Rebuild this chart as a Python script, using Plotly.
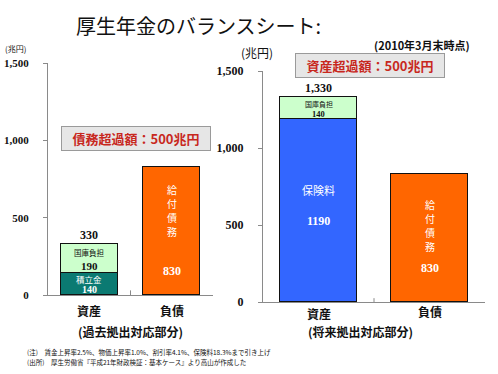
import plotly.graph_objects as go

categories = ["資産", "負債"]
# past contributions (left)
past_tsumitate = 140
past_kokko = 190
past_kyufu = 830
# future contributions (right)
fut_hokenryo = 1190
fut_kokko = 140
fut_kyufu = 830
y_ticks = [0, 500, 1000, 1500]
y_ticklabels = ["0", "500", "1,000", "1,500"]
liability_label = "給付債務"

W, H = 498, 374
SERIF = "Liberation Serif, Noto Sans CJK JP"
JP = "Noto Sans CJK JP"
TEAL = "#0b7a72"
LGREEN = "#ccffcc"
ORANGE = "#ff6600"
BLUE = "#3366ff"

def px(x):
    return x / W

def py(y):
    return 1 - y / H

fig = go.Figure()
line = dict(color="#111111", width=1.5)
bw = 0.69
fig.add_trace(go.Bar(x=[categories[0]], y=[past_tsumitate], marker=dict(color=TEAL, line=line), width=bw, xaxis="x", yaxis="y"))
fig.add_trace(go.Bar(x=[categories[0]], y=[past_kokko], marker=dict(color=LGREEN, line=line), width=bw, xaxis="x", yaxis="y"))
fig.add_trace(go.Bar(x=[categories[1]], y=[past_kyufu], marker=dict(color=ORANGE, line=line), width=bw, xaxis="x", yaxis="y"))
fig.add_trace(go.Bar(x=[categories[0]], y=[fut_hokenryo], marker=dict(color=BLUE, line=line), width=bw, xaxis="x2", yaxis="y2"))
fig.add_trace(go.Bar(x=[categories[0]], y=[fut_kokko], marker=dict(color=LGREEN, line=line), width=bw, xaxis="x2", yaxis="y2"))
fig.add_trace(go.Bar(x=[categories[1]], y=[fut_kyufu], marker=dict(color=ORANGE, line=line), width=bw, xaxis="x2", yaxis="y2"))

axcol = "#8a8a8a"
xcommon = dict(type="category", categoryorder="array", categoryarray=categories, range=[-0.5, 1.5],
               showline=True, linecolor=axcol, linewidth=1, showticklabels=False, ticks="",
               showgrid=False, zeroline=False, fixedrange=True, automargin=False)
ycommon = dict(range=[0, 1500], tickvals=y_ticks, ticktext=y_ticklabels, showline=True, linecolor=axcol,
               linewidth=1, ticks="outside", ticklen=4, tickcolor=axcol, showgrid=False, zeroline=False,
               ticklabelstandoff=12, tickfont=dict(family=SERIF, size=11, color="#111", weight="bold"),
               fixedrange=True, automargin=False)

fig.update_layout(
    width=W, height=H, margin=dict(l=0, r=0, t=0, b=0, pad=0, autoexpand=False),
    paper_bgcolor="white", plot_bgcolor="white", showlegend=False, barmode="stack", bargap=0,
    xaxis=dict(domain=[px(48), px(213)], anchor="y", **xcommon),
    yaxis=dict(domain=[py(295), py(63)], anchor="x", **ycommon),
    xaxis2=dict(domain=[px(263), px(485)], anchor="y2", **xcommon),
    yaxis2=dict(domain=[py(302), py(71)], anchor="x2",
                **{**ycommon, "tickfont": dict(family=SERIF, size=12, color="#111", weight="bold")}),
)

# small middle ticks on category axes
fig.add_shape(type="line", xref="x", yref="y", x0=0.5, x1=0.5, y0=0, y1=30, line=dict(color=axcol, width=1))
fig.add_shape(type="line", xref="x2", yref="y2", x0=0.5, x1=0.5, y0=0, y1=25, line=dict(color=axcol, width=1))

ann = []
def t(x, y, text, size, color="#111", family=SERIF, bold=False, xref="paper", yref="paper", **kw):
    if bold:
        text = "<b>" + text + "</b>"
    kw.setdefault("xanchor", "center")
    kw.setdefault("yanchor", "middle")
    ann.append(dict(x=x, y=y, xref=xref, yref=yref, text=text, showarrow=False,
                    font=dict(family=family, size=size, color=color), **kw))

def vertical(x, y, text, xref, yref, step=14, size=10):
    for i, ch in enumerate(text):
        t(x, y, ch, size, color="white", family=JP, xref=xref, yref=yref, yshift=-step * i)

# title
t(px(198), py(25), "厚生年金のバランスシート:", 20, family=JP)
t(px(422), py(45), "(2010年3月末時点)", 11, bold=True, family=JP)
# units
t(px(16), py(49), "(兆円)", 8, family=JP)
t(px(257), py(52), "(兆円)", 12, family=JP)

# left bar labels
past_total = past_tsumitate + past_kokko
t(categories[0], past_total, f"<b>{past_total:,}</b>", 12, xref="x", yref="y", yanchor="bottom", yshift=0)
t(categories[0], past_tsumitate + past_kokko * 0.72, "国庫負担", 7.5, family=JP, xref="x", yref="y")
t(categories[0], past_tsumitate + past_kokko * 0.26, f"<b>{past_kokko}</b>", 11, xref="x", yref="y")
t(categories[0], past_tsumitate * 0.74, "積立金", 8.5, color="white", family=JP, xref="x", yref="y")
t(categories[0], past_tsumitate * 0.24, f"<b>{past_tsumitate}</b>", 10, color="white", xref="x", yref="y")
vertical(categories[1], past_kyufu * 0.818, liability_label, "x", "y")
t(categories[1], past_kyufu * 0.19, f"<b>{past_kyufu}</b>", 12, color="white", xref="x", yref="y")

# right bar labels
fut_total = fut_hokenryo + fut_kokko
t(categories[0], fut_total, f"<b>{fut_total:,}</b>", 12, xref="x2", yref="y2", yanchor="bottom", yshift=0)
t(categories[0], fut_hokenryo + fut_kokko * 0.68, "国庫負担", 7, family=JP, xref="x2", yref="y2")
t(categories[0], fut_hokenryo + fut_kokko * 0.24, f"<b>{fut_kokko}</b>", 8.5, xref="x2", yref="y2")
t(categories[0], fut_hokenryo * 0.61, "保険料", 11, color="white", family=JP, xref="x2", yref="y2")
t(categories[0], fut_hokenryo * 0.44, f"<b>{fut_hokenryo}</b>", 12, color="white", xref="x2", yref="y2")
vertical(categories[1], fut_kyufu * 0.765, liability_label, "x2", "y2", step=14)
t(categories[1], fut_kyufu * 0.266, f"<b>{fut_kyufu}</b>", 12, color="white", xref="x2", yref="y2")

# category labels
t(categories[0], 0, "資産", 12, bold=True, family=JP, xref="x", yref="y", yanchor="top", yshift=-5)
t(categories[1], 0, "負債", 12, bold=True, family=JP, xref="x", yref="y", yanchor="top", yshift=-5)
t(categories[0], 0, "資産", 12, bold=True, family=JP, xref="x2", yref="y2", yanchor="top", yshift=-1)
t(categories[1], 0, "負債", 12, bold=True, family=JP, xref="x2", yref="y2", yanchor="top", yshift=1)
t(px(130), py(331), "(過去拠出対応部分)", 12, bold=True, family=JP)
t(px(360), py(331), "(将来拠出対応部分)", 12, bold=True, family=JP)

# boxes
t(px(136), py(139), "債務超過額：500兆円", 13, color="#c8281e", bold=True, family=JP,
  bgcolor="#e6e6e6", bordercolor="#9a9a9a", borderwidth=1, borderpad=2, width=144)
t(px(370), py(65), "資産超過額：500兆円", 13, color="#c8281e", bold=True, family=JP,
  bgcolor="#e6e6e6", bordercolor="#9a9a9a", borderwidth=1, borderpad=2, width=144)

# footnotes
t(px(25), py(352), "(注)　賃金上昇率2.5%、物価上昇率1.0%、割引率4.1%、保険料18.3%まで引き上げ", 6.5, family=JP, xanchor="left")
t(px(25), py(362), "(出所)　厚生労働省『平成21年財政検証：基本ケース』より高山が作成した", 6.5, family=JP, xanchor="left")

fig.update_layout(annotations=ann)
fig.write_html("out.html", config={"displayModeBar": False},
               post_script="document.body.style.margin='0';document.body.style.padding='0';")
